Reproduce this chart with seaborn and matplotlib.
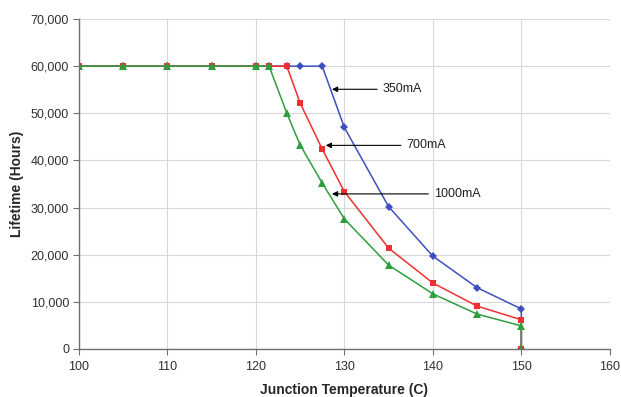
import numpy as np
import pandas as pd
import seaborn as sns
import matplotlib.pyplot as plt
from matplotlib.ticker import FuncFormatter

# Junction temperature (C) and lifetime (hours) per drive current
temp_350 = [100, 105, 110, 115, 120, 121.5, 123.5, 125, 127.5, 130, 135, 140, 145, 150, 150]
life_350 = [60000, 60000, 60000, 60000, 60000, 60000, 60000, 60000, 60000, 47000, 30200, 19700, 13000, 8500, 0]

temp_700 = [100, 105, 110, 115, 120, 121.5, 123.5, 125, 127.5, 130, 135, 140, 145, 150, 150]
life_700 = [60000, 60000, 60000, 60000, 60000, 60000, 60000, 52200, 42400, 33400, 21400, 14000, 9100, 6200, 0]

temp_1000 = [100, 105, 110, 115, 120, 121.5, 123.5, 125, 127.5, 130, 135, 140, 145, 150, 150]
life_1000 = [60000, 60000, 60000, 60000, 60000, 60000, 50000, 43300, 35200, 27600, 17800, 11700, 7400, 4900, 0]

sns.set_style("white")
plt.rcParams['font.family'] = ['Liberation Sans', 'DejaVu Sans']

fig = plt.figure(figsize=(6.21, 3.97), dpi=100)
ax = fig.add_axes([0.127, 0.121, 0.855, 0.831])

sns.lineplot(x=temp_350, y=life_350, color='#3f4fbf', marker='D', markersize=4.5,
             markeredgewidth=0, linewidth=1.1, sort=False, estimator=None, ax=ax)
sns.lineplot(x=temp_700, y=life_700, color='#f03030', marker='s', markersize=5,
             markeredgewidth=0, linewidth=1.1, sort=False, estimator=None, ax=ax)
sns.lineplot(x=temp_1000, y=life_1000, color='#2e9e3e', marker='^', markersize=5.5,
             markeredgewidth=0, linewidth=1.1, sort=False, estimator=None, ax=ax)

# Labels with arrows
arrow = dict(arrowstyle='-|>', color='black', lw=0.8, mutation_scale=8,
             shrinkA=1.5, shrinkB=0)
ax.annotate('350mA', xy=(128.6, 55100), xytext=(134.3, 55100), fontsize=9,
            va='center', ha='left', color='#202020', arrowprops=arrow)
ax.annotate('700mA', xy=(127.9, 43200), xytext=(137.0, 43200), fontsize=9,
            va='center', ha='left', color='#202020', arrowprops=arrow)
ax.annotate('1000mA', xy=(128.6, 32900), xytext=(140.1, 32900), fontsize=9,
            va='center', ha='left', color='#202020', arrowprops=arrow)

ax.set_xlim(100, 160)
ax.set_ylim(0, 70000)
ax.set_xticks(range(100, 161, 10))
ax.set_yticks(range(0, 70001, 10000))
ax.yaxis.set_major_formatter(FuncFormatter(lambda v, p: f'{int(v):,}'))
ax.grid(True, color='#d8d8d8', linewidth=0.8)
ax.set_axisbelow(True)

for s in ['top', 'right']:
    ax.spines[s].set_visible(False)
for s in ['left', 'bottom']:
    ax.spines[s].set_color('#707070')
    ax.spines[s].set_linewidth(1)

ax.tick_params(axis='both', direction='out', length=4, width=0.8, color='#707070',
               labelsize=9, colors='#303030', left=True, bottom=True)
ax.tick_params(axis='x', pad=5)
ax.tick_params(axis='y', pad=3)
ax.set_xlabel('Junction Temperature (C)', fontsize=10, fontweight='bold', labelpad=7)
ax.set_ylabel('Lifetime (Hours)', fontsize=10, fontweight='bold', labelpad=5)

plt.savefig('out.png', dpi=100)
